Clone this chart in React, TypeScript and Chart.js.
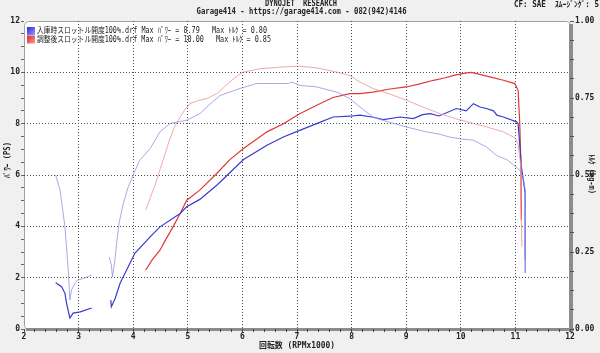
import React, { useEffect, useRef } from 'react';
import { Chart, registerables } from 'chart.js';

Chart.register(...registerables);

const MONO = '"DejaVu Sans Mono", "Noto Sans CJK JP", monospace';

// ---- data (rpm x1000, power PS, torque kg-m); null = gap in trace ----
const beforePowerRpm = [
  2.58, 2.69, 2.75, 2.78, 2.84, 2.90, 3.03, 3.24, 3.40,
  3.59, 3.60, 3.67, 3.76, 3.88, 4.03, 4.31, 4.49, 4.86, 4.98,
  5.22, 5.53, 5.75, 6.02, 6.45, 6.75, 7.05, 7.36, 7.66, 7.97,
  8.15, 8.40, 8.58, 8.89, 9.13, 9.30, 9.44, 9.60, 9.92, 10.10,
  10.23, 10.35, 10.47, 10.60, 10.66, 10.78, 11.02, 11.05, 11.11, 11.18,
  11.18, 11.18,
];
const beforePowerPs = [
  1.80, 1.65, 1.39, 1.00, 0.43, 0.62, 0.67, 0.82, null,
  1.13, 0.87, 1.19, 1.78, 2.30, 2.95, 3.59, 3.98, 4.50, 4.76,
  5.05, 5.60, 6.05, 6.60, 7.16, 7.48, 7.74, 8.00, 8.26, 8.29,
  8.33, 8.25, 8.16, 8.26, 8.20, 8.35, 8.39, 8.30, 8.59, 8.50,
  8.78, 8.65, 8.59, 8.50, 8.33, 8.26, 8.07, 8.00, 6.32, 5.28,
  3.46, 2.70,
];

const beforeTorqueRpm = [
  2.58, 2.66, 2.75, 2.81, 2.84, 2.87, 2.97, 3.09, 3.24, 3.40,
  3.56, 3.60, 3.62, 3.66, 3.70, 3.74, 3.82, 3.91, 4.00, 4.12,
  4.31, 4.49, 4.67, 4.98, 5.22, 5.40, 5.59, 5.96, 6.26, 6.56,
  6.84, 6.90, 7.05, 7.36, 7.73, 7.97, 8.15, 8.39, 8.70, 9.00,
  9.37, 9.60, 9.80, 10.00, 10.23, 10.47, 10.66, 10.84, 10.97, 11.08,
  11.14, 11.18, 11.18,
];
const beforeTorqueKgm = [
  0.500, 0.451, 0.332, 0.192, 0.094, 0.127, 0.158, 0.164, 0.175, null,
  0.234, 0.208, 0.169, 0.217, 0.283, 0.343, 0.408, 0.462, 0.500, 0.548,
  0.586, 0.640, 0.667, 0.678, 0.699, 0.729, 0.758, 0.781, 0.797, 0.797,
  0.797, 0.802, 0.791, 0.786, 0.769, 0.748, 0.721, 0.688, 0.671, 0.656,
  0.640, 0.633, 0.623, 0.617, 0.613, 0.591, 0.563, 0.550, 0.532, 0.516,
  0.494, 0.450, 0.182,
];

const afterPowerRpm = [
  4.23, 4.35, 4.49, 4.60, 4.73, 4.86, 4.98, 5.22, 5.53, 5.77,
  6.02, 6.45, 6.75, 7.05, 7.36, 7.66, 7.97, 8.15, 8.39, 8.70,
  9.00, 9.25, 9.50, 9.70, 9.87, 10.11, 10.20, 10.29, 10.53, 10.78,
  10.99, 11.05, 11.08, 11.10, 11.11,
];
const afterPowerPs = [
  2.30, 2.70, 3.07, 3.50, 3.98, 4.50, 5.02, 5.41, 6.06, 6.60,
  7.03, 7.68, 8.00, 8.39, 8.72, 9.02, 9.17, 9.17, 9.23, 9.35,
  9.43, 9.55, 9.69, 9.78, 9.88, 9.98, 10.00, 9.95, 9.82, 9.69,
  9.56, 9.30, 8.00, 6.50, 4.24,
];

const afterTorqueRpm = [
  4.23, 4.31, 4.40, 4.49, 4.58, 4.67, 4.76, 4.86, 4.95, 5.04,
  5.20, 5.35, 5.53, 5.65, 5.77, 5.90, 6.02, 6.32, 6.75, 7.05,
  7.36, 7.73, 7.97, 8.15, 8.39, 8.70, 9.00, 9.30, 9.62, 9.90,
  10.11, 10.47, 10.78, 10.99, 11.05, 11.09, 11.10, 11.12,
];
const afterTorqueKgm = [
  0.386, 0.425, 0.467, 0.517, 0.567, 0.617, 0.658, 0.688, 0.713, 0.732,
  0.742, 0.748, 0.764, 0.783, 0.802, 0.821, 0.834, 0.845, 0.851, 0.853,
  0.848, 0.834, 0.823, 0.802, 0.781, 0.763, 0.743, 0.721, 0.699, 0.683,
  0.673, 0.656, 0.640, 0.621, 0.600, 0.542, 0.417, 0.267,
];

const legendLines = [
  '入庫時スロットル開度100%.drf Max ﾊﾟﾜｰ = 8.79   Max ﾄﾙｸ = 0.80',
  '調整後スロットル開度100%.drf Max ﾊﾟﾜｰ = 10.00   Max ﾄﾙｸ = 0.85',
];
const titleLine1 = 'DYNOJET  RESEARCH';
const titleLine2 = 'Garage414 - https://garage414.com - 082(942)4146';
const cornerNote = 'CF: SAE  ｽﾑｰｼﾞﾝｸﾞ: 5';
const xTitle = '回転数 (RPMx1000)';
const yTitle = 'ﾊﾟﾜｰ (PS)';
const y1Title = 'ﾄﾙｸ (kg-m)';

const zip = (xs: number[], ys: (number | null)[]) => xs.map((x, i) => ({ x, y: ys[i] }));
const near = (v: number, step: number) => Math.abs(v / step - Math.round(v / step)) < 1e-6;

const framePlugin = {
  id: 'dynoFrame',
  beforeDraw(chart: any) {
    const { ctx, chartArea: a, width, height } = chart;
    ctx.save();
    ctx.fillStyle = '#f0f0f0';
    ctx.fillRect(0, 0, width, height);
    ctx.fillStyle = '#ffffff';
    ctx.fillRect(a.left, a.top, a.right - a.left, a.bottom - a.top);
    ctx.strokeStyle = '#a0a0a0';
    ctx.lineWidth = 1;
    ctx.beginPath();
    (ctx as any).roundRect(a.left + 0.5, a.top + 0.5, a.right - a.left, a.bottom - a.top, 4);
    ctx.stroke();
    ctx.fillStyle = '#8c8c8c';
    ctx.fillRect(a.right - 1, a.top + 3, 4, a.bottom - a.top);
    ctx.fillRect(a.left + 2, a.bottom - 1, a.right - a.left + 2, 3);
    ctx.restore();
  },
  afterDraw(chart: any) {
    const { ctx, chartArea: a } = chart;
    ctx.save();
    ctx.fillStyle = '#222';
    ctx.textBaseline = 'middle';
    ctx.textAlign = 'center';
    ctx.font = `bold 8px ${MONO}`;
    ctx.fillText(titleLine1, 301, 3.5, 72);
    ctx.fillText(titleLine2, 301.5, 12, 210);
    ctx.textAlign = 'left';
    ctx.fillText(cornerNote, 514, 4.5, 85);
    ctx.textAlign = 'center';
    ctx.fillText(xTitle, (a.left + a.right) / 2, 346, 76);
    ctx.save();
    ctx.translate(8, 160);
    ctx.rotate(-Math.PI / 2);
    ctx.fillText(yTitle, 0, 0, 36);
    ctx.restore();
    ctx.save();
    ctx.translate(591, 174);
    ctx.rotate(Math.PI / 2);
    ctx.fillText(y1Title, 0, 0, 40);
    ctx.restore();
    const boxes = [
      ['#2828d8', '#9a9aff'],
      ['#d82828', '#ff9a9a'],
    ];
    const widths = [230, 234];
    legendLines.forEach((t, i) => {
      const by = a.top + 6 + i * 8.5;
      const g = ctx.createLinearGradient(a.left + 3, by, a.left + 11, by + 8);
      g.addColorStop(0, boxes[i][0]);
      g.addColorStop(1, boxes[i][1]);
      ctx.fillStyle = g;
      ctx.fillRect(a.left + 3, by, 8, 8);
      ctx.fillStyle = '#222';
      ctx.textAlign = 'left';
      ctx.font = `8px ${MONO}`;
      ctx.fillText(t, a.left + 13, by + 4, widths[i]);
    });
    ctx.restore();
  },
};

const tickFont = { family: MONO, size: 8, weight: 'bold' as const };

export default function App() {
  const ref = useRef<HTMLCanvasElement | null>(null);
  useEffect(() => {
    document.body.style.margin = '0';
    if (!ref.current) return;
    const chart = new Chart(ref.current, {
      type: 'line',
      data: {
        datasets: [
          {
            label: 'before torque',
            data: zip(beforeTorqueRpm, beforeTorqueKgm),
            yAxisID: 'y1',
            borderColor: 'rgba(140,140,228,0.75)',
            borderWidth: 1,
          },
          {
            label: 'after torque',
            data: zip(afterTorqueRpm, afterTorqueKgm),
            yAxisID: 'y1',
            borderColor: 'rgba(238,140,140,0.75)',
            borderWidth: 1,
          },
          {
            label: 'before power',
            data: zip(beforePowerRpm, beforePowerPs),
            yAxisID: 'y',
            borderColor: '#3a3ad0',
            borderWidth: 1.2,
          },
          {
            label: 'after power',
            data: zip(afterPowerRpm, afterPowerPs),
            yAxisID: 'y',
            borderColor: '#e03838',
            borderWidth: 1.2,
          },
        ] as any,
      },
      options: {
        animation: false,
        responsive: false,
        spanGaps: false,
        elements: { point: { radius: 0 }, line: { tension: 0 } },
        layout: { padding: { top: 21, left: 0, right: 0, bottom: 0 } },
        plugins: { legend: { display: false }, tooltip: { enabled: false }, title: { display: false } },
        scales: {
          x: {
            type: 'linear',
            min: 2,
            max: 12,
            afterFit: (s: any) => { s.height = 24; },
            ticks: {
              stepSize: 0.2,
              autoSkip: false,
              maxRotation: 0,
              padding: 0,
              color: '#222',
              font: tickFont,
              callback: (v: any) => (near(Number(v), 1) ? String(Math.round(Number(v))) : ''),
            },
            grid: {
              color: (c: any) => {
                const v = c.tick ? c.tick.value : 0;
                return near(v, 1) && v > 2.5 && v < 11.5 ? '#4a4a4a' : 'rgba(0,0,0,0)';
              },
              tickColor: '#444',
              tickLength: 3,
              lineWidth: 1,
            },
            border: { display: false, dash: [1, 2] },
          },
          y: {
            type: 'linear',
            position: 'left',
            min: 0,
            max: 12,
            afterFit: (s: any) => { s.width = 24; },
            ticks: {
              stepSize: 0.5,
              autoSkip: false,
              padding: 1,
              color: '#222',
              font: tickFont,
              callback: (v: any) => (near(Number(v), 2) ? String(Math.round(Number(v))) : ''),
            },
            grid: {
              color: (c: any) => {
                const v = c.tick ? c.tick.value : 0;
                return near(v, 2) && v > 1 && v < 11 ? '#4a4a4a' : 'rgba(0,0,0,0)';
              },
              tickColor: '#666',
              tickLength: 3,
              lineWidth: 1,
            },
            border: { display: false, dash: [1, 2] },
          },
          y1: {
            type: 'linear',
            position: 'right',
            min: 0,
            max: 1,
            afterFit: (s: any) => { s.width = 30; },
            ticks: {
              stepSize: 0.0625,
              autoSkip: false,
              padding: 1,
              color: '#222',
              font: tickFont,
              callback: (v: any) => (near(Number(v), 0.25) ? Number(v).toFixed(2) : ''),
            },
            grid: {
              drawOnChartArea: false,
              tickColor: '#555',
              tickLength: 4,
            },
            border: { display: false },
          },
        },
      } as any,
      plugins: [framePlugin],
    });
    return () => chart.destroy();
  }, []);
  return <canvas ref={ref} width={600} height={353} style={{ display: 'block', width: 600, height: 353 }} />;
}
